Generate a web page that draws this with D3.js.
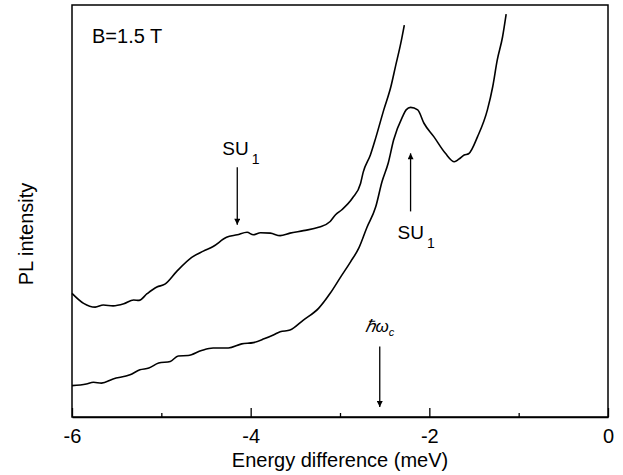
<!DOCTYPE html>
<html>
<head>
<meta charset="utf-8">
<script src="https://cdn.jsdelivr.net/npm/d3@7"></script>
<style>
  html, body { margin: 0; padding: 0; background: #fff; }
  svg { display: block; }
  text { font-family: "Liberation Sans", Arial, Helvetica, sans-serif; fill: #000; }
</style>
</head>
<body>
<svg id="chart" width="623" height="475"></svg>
<script>
// ---- Data (energy difference in meV, PL intensity in arbitrary units) ----
const upperX = [-6.00,-5.87,-5.74,-5.65,-5.54,-5.42,-5.31,-5.25,-5.16,-5.05,-4.96,-4.83,-4.66,-4.53,-4.42,-4.27,-4.15,-4.04,-3.97,-3.89,-3.78,-3.67,-3.56,-3.41,-3.24,-3.11,-3.05,-2.98,-2.86,-2.77,-2.74,-2.66,-2.60,-2.51,-2.43,-2.38,-2.32,-2.28];
const upperY = [31.0,28.6,27.7,28.2,28.0,28.5,29.4,29.3,30.9,32.5,33.2,36.2,39.6,41.1,42.2,44.4,45.0,45.6,45.0,45.5,45.4,44.8,45.4,46.0,46.8,48.2,49.8,51.0,53.8,57.3,60.0,64.1,68.2,74.9,80.5,85.2,90.8,95.2];

const lowerX = [-6.00,-5.84,-5.76,-5.67,-5.54,-5.35,-5.24,-5.14,-5.03,-4.90,-4.81,-4.70,-4.55,-4.42,-4.25,-4.10,-3.97,-3.85,-3.74,-3.67,-3.56,-3.41,-3.24,-3.11,-2.99,-2.88,-2.79,-2.70,-2.60,-2.53,-2.46,-2.40,-2.30,-2.26,-2.21,-2.13,-2.06,-1.95,-1.82,-1.72,-1.67,-1.61,-1.56,-1.46,-1.35,-1.29,-1.24,-1.18,-1.14];
const lowerY = [8.9,9.3,9.7,9.5,10.5,11.5,12.7,13.1,14.3,14.7,16.0,16.1,17.3,17.9,17.9,18.9,19.2,20.1,21.1,21.8,22.2,24.6,27.4,31.0,35.0,38.6,41.8,46.7,51.7,57.7,62.2,67.7,73.3,74.9,75.5,74.9,71.7,68.5,64.5,62.5,63.1,64.1,64.4,68.5,74.9,80.5,86.8,92.4,97.8];

const majorTicks = [-6, -4, -2, 0];
const minorTicks = [-5, -3, -1];
const xDomain = [-6, 0];
const yDomain = [1.4, 100];

// Annotations: arrow x position (meV), arrow tail and head (intensity units)
const annotX    = [-4.15, -2.21, -2.555];
const annotFrom = [61.2, 50.6, 18.3];
const annotTo   = [47.4, 64.5, 3.8];

const fieldLabel = "B=1.5 T";
const xTitle = "Energy difference (meV)";
const yTitle = "PL intensity";

// ---- Layout ----
const svg = d3.select("#chart");
const L = 72, R = 608, T = 5, B = 417;

const x = d3.scaleLinear().domain(xDomain).range([L, R]);
const y = d3.scaleLinear().domain(yDomain).range([B, T]);

// Frame
svg.append("rect")
  .attr("x", L).attr("y", T).attr("width", R - L).attr("height", B - T)
  .attr("fill", "none").attr("stroke", "#000").attr("stroke-width", 1.5);

// Bottom axis: major ticks (inward) with labels
const axMajor = svg.append("g").attr("transform", `translate(0,${B})`)
  .call(d3.axisBottom(x).tickValues(majorTicks).tickSizeInner(-9).tickSizeOuter(0).tickPadding(12)
        .tickFormat(d => d === 0 ? "0" : "-" + Math.abs(d)));
axMajor.select(".domain").attr("stroke", "#000").attr("stroke-width", 1.5);
axMajor.selectAll(".tick line").attr("stroke", "#000").attr("stroke-width", 1.3);
axMajor.selectAll(".tick text").attr("font-size", 20)
  .attr("font-family", '"Liberation Sans", Arial, sans-serif').attr("fill", "#000");

// Minor ticks
const axMinor = svg.append("g").attr("transform", `translate(0,${B})`)
  .call(d3.axisBottom(x).tickValues(minorTicks).tickSizeInner(-4).tickSizeOuter(0).tickFormat(""));
axMinor.select(".domain").remove();
axMinor.selectAll(".tick line").attr("stroke", "#000").attr("stroke-width", 1.3);

// Curves
const line = d3.line().x(d => x(d[0])).y(d => y(d[1])).curve(d3.curveMonotoneX);
const upper = upperX.map((v, i) => [v, upperY[i]]);
const lower = lowerX.map((v, i) => [v, lowerY[i]]);
[upper, lower].forEach(s => {
  svg.append("path").datum(s).attr("d", line)
    .attr("fill", "none").attr("stroke", "#000").attr("stroke-width", 1.6)
    .attr("stroke-linejoin", "round");
});

// Arrow marker
svg.append("defs").append("marker")
  .attr("id", "ah").attr("viewBox", "0 0 10 10").attr("refX", 10).attr("refY", 5)
  .attr("markerUnits", "userSpaceOnUse").attr("markerWidth", 9).attr("markerHeight", 6)
  .attr("orient", "auto")
  .append("path").attr("d", "M0,0 L10,5 L0,10 Z").attr("fill", "#000");

annotX.forEach((ax, i) => {
  svg.append("line")
    .attr("x1", x(ax)).attr("x2", x(ax))
    .attr("y1", y(annotFrom[i])).attr("y2", y(annotTo[i]))
    .attr("stroke", "#000").attr("stroke-width", 1.3)
    .attr("marker-end", "url(#ah)");
});

// SU1 labels
function su(xp, yp) {
  const t = svg.append("text").attr("x", xp).attr("y", yp).attr("font-size", 19);
  t.append("tspan").text("SU");
  t.append("tspan").attr("dx", 3).attr("dy", 9).attr("font-size", 14).text("1");
}
su(x(annotX[0]) - 15, y(annotFrom[0]) - 12);
su(x(annotX[1]) - 13, y(annotFrom[1]) + 28);

// hbar omega_c label
const hw = svg.append("text")
  .attr("x", x(annotX[2])).attr("y", y(annotFrom[2]) - 14)
  .attr("text-anchor", "middle")
  .attr("font-family", '"Liberation Serif", "DejaVu Serif", serif')
  .attr("font-style", "italic").attr("font-size", 17);
hw.append("tspan").text("\u210F\u03C9");
hw.append("tspan").attr("dy", 4).attr("font-size", 11).text("c");

// Field label
svg.append("text").attr("x", 92).attr("y", 43).attr("font-size", 20).text(fieldLabel);

// Axis titles
svg.append("text").attr("x", (L + R) / 2).attr("y", 467)
  .attr("text-anchor", "middle").attr("font-size", 20).text(xTitle);
svg.append("text").attr("transform", "translate(33,234) rotate(-90)")
  .attr("text-anchor", "middle").attr("font-size", 20).text(yTitle);
</script>
</body>
</html>
